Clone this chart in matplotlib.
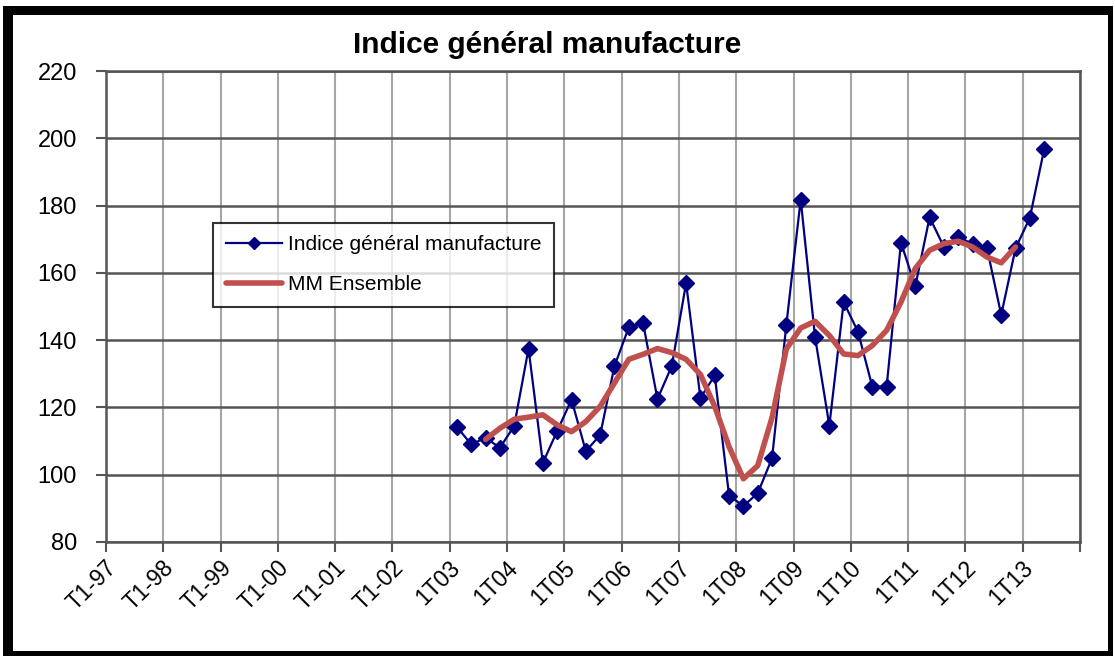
import matplotlib.pyplot as plt
import numpy as np
from matplotlib.patches import Rectangle

W, H = 1115, 656

year_labels = ["T1-97", "T1-98", "T1-99", "T1-00", "T1-01", "T1-02",
               "1T03", "1T04", "1T05", "1T06", "1T07", "1T08",
               "1T09", "1T10", "1T11", "1T12", "1T13"]
n_quarters = 68

# indice général manufacture, from quarter index 24 (1T03)
indice_start = 24
indice = [114.2, 109.0, 111.0, 108.0, 114.5, 137.5, 103.5, 113.0,
          122.3, 107.0, 111.8, 132.3, 143.8, 145.0, 122.5, 132.3,
          157.0, 122.8, 129.5, 93.8, 90.7, 94.5, 104.9, 144.6,
          181.8, 141.0, 114.6, 151.3, 142.5, 126.2, 126.2, 169.0,
          156.0, 176.5, 167.7, 170.8, 168.5, 167.5, 147.5, 167.3,
          176.4, 196.8]

# moyenne mobile, from quarter index 26
mm_start = 26
mm_ensemble = [110.5, 113.8, 116.5, 117.1, 117.8, 114.8, 112.8, 115.8,
               120.3, 127.3, 134.3, 135.8, 137.5, 136.3, 134.3, 129.8,
               120.3, 108.3, 98.8, 102.7, 117.0, 137.4, 143.6, 145.6,
               141.4, 135.9, 135.4, 138.4, 142.9, 151.3, 161.3, 166.7,
               168.7, 169.4, 167.7, 164.7, 163.0, 167.7]

plt.rcParams['font.family'] = ['Liberation Sans', 'DejaVu Sans']

fig = plt.figure(figsize=(W / 100, H / 100), dpi=100)
fig.patch.set_facecolor('white')

# black frame around the chart
fig.add_artist(Rectangle((3 / W, 0), 1110 / W, 650 / H, transform=fig.transFigure,
                         facecolor='black', edgecolor='none', zorder=-3))
fig.add_artist(Rectangle((13 / W, 5 / H), 1095 / W, 636 / H, transform=fig.transFigure,
                         facecolor='white', edgecolor='none', zorder=-2))

ax = fig.add_axes([106 / W, 1 - 542 / H, 974 / W, 471 / H])
ax.set_facecolor('white')

x_ind = np.arange(indice_start, indice_start + len(indice)) + 0.5
x_mm = np.arange(mm_start, mm_start + len(mm_ensemble)) + 0.5

ax.plot(x_ind, indice, color='#000080', lw=1.6, marker='D', ms=8,
        label='Indice général manufacture', zorder=3)
ax.plot(x_mm, mm_ensemble, color='#C0504D', lw=4, solid_joinstyle='round',
        solid_capstyle='round', label='MM Ensemble', zorder=4)

ax.set_xlim(0, n_quarters)
ax.set_ylim(80, 220)
ax.set_yticks(np.arange(80, 221, 20))

ax.set_xticks(np.arange(0, n_quarters + 1, 4))
ax.set_xticklabels([])
ax.set_xticks(np.arange(len(year_labels)) * 4 + 0.5, minor=True)
ax.set_xticklabels(year_labels, minor=True, rotation=45, ha='right',
                   va='center', rotation_mode='anchor', fontsize=16.5)
ax.tick_params(axis='x', which='minor', length=0, pad=16)
ax.tick_params(axis='x', which='major', length=7, width=1.5, color='#555555')
ax.tick_params(axis='y', length=7, width=1.5, color='#555555', labelsize=17, pad=14)

ax.grid(axis='y', color='#555555', lw=1.8, zorder=0)
ax.grid(axis='x', which='major', color='#a6a6a6', lw=1.5, zorder=0)
ax.set_axisbelow(True)
for s in ax.spines.values():
    s.set_color('#555555')
    s.set_linewidth(1.8)

leg = ax.legend(loc='upper left', bbox_to_anchor=(213 / W, 1 - 223 / H),
                bbox_transform=fig.transFigure, borderaxespad=0, fontsize=15,
                fancybox=False, frameon=True, handlelength=2.7,
                handletextpad=0.3, labelspacing=1.0, borderpad=0.6)
leg.get_frame().set_edgecolor('black')
leg.get_frame().set_linewidth(1.5)
leg.get_lines()[0].set_markersize(6)

fig.text(547 / W, 1 - 53 / H, 'Indice général manufacture', ha='center',
         va='baseline', fontsize=21.5, fontweight='bold')

fig.savefig('out.png', dpi=100)
